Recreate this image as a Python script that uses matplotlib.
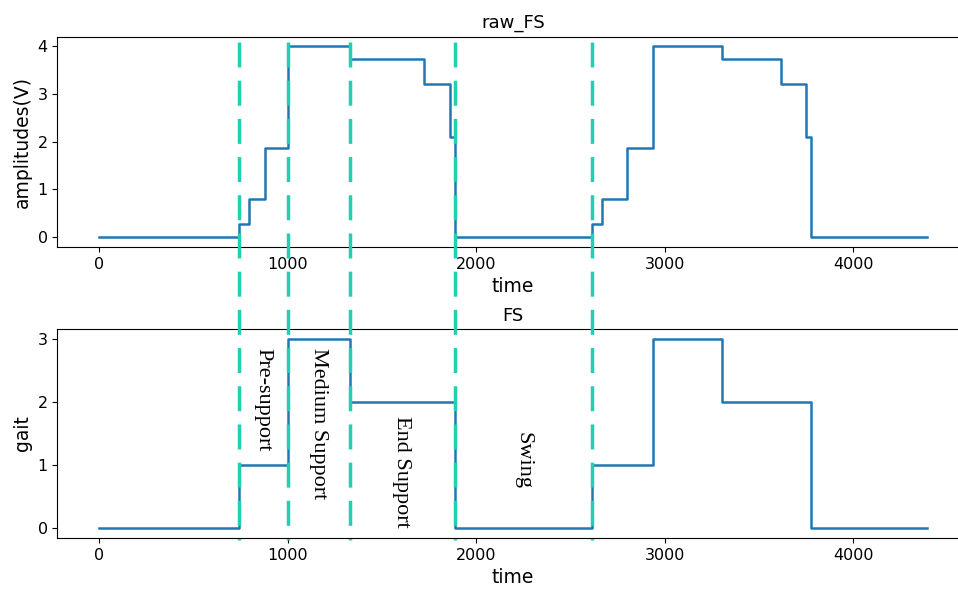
import matplotlib
matplotlib.use("Agg")
import matplotlib.pyplot as plt
from matplotlib.lines import Line2D
from matplotlib import transforms

# raw force-sensor amplitude, step changes (time, value)
raw_t = [0, 744, 795, 880, 1000, 1331, 1723, 1861, 1888,
         2616, 2669, 2803, 2939, 3305, 3616, 3752, 3774, 4392]
raw_v = [0, 0.27, 0.8, 1.87, 4.0, 3.73, 3.2, 2.1, 0,
         0.27, 0.8, 1.87, 4.0, 3.73, 3.2, 2.1, 0, 0]

# gait phase labels
gait_t = [0, 744, 1000, 1331, 1888, 2616, 2939, 3305, 3774, 4392]
gait_v = [0, 1, 3, 2, 0, 1, 3, 2, 0, 0]

# phase boundaries
bounds = [744, 1000, 1331, 1888, 2616]

phases = ["Pre-support", "Medium Support", "End Support", "Swing"]
phase_x = [872, 1166, 1605, 2250]
phase_y = [2.03, 1.65, 0.89, 1.08]

blue = "#1f77b4"
teal = "#20d0b0"
plt.rcParams["font.size"] = 11.5

fig = plt.figure(figsize=(9.58, 5.89), dpi=100)
ax1 = fig.add_axes([0.060, 0.581, 0.951, 0.357])
ax2 = fig.add_axes([0.060, 0.0866, 0.951, 0.3548])

ax1.step(raw_t, raw_v, where="post", color=blue, lw=1.8)
ax1.set_title("raw_FS", fontsize=13)
ax1.set_xlabel("time", fontsize=13.5)
ax1.set_ylabel("amplitudes(V)", fontsize=13.5)
ax1.set_yticks([0, 1, 2, 3, 4])

ax2.step(gait_t, gait_v, where="post", color=blue, lw=1.8)
ax2.set_title("FS", fontsize=13)
ax2.set_xlabel("time", fontsize=13.5)
ax2.set_ylabel("gait", fontsize=13.5)
ax2.set_yticks([0, 1, 2, 3])

for ax in (ax1, ax2):
    ax.set_xlim(-220, 4612)
    ax.set_xticks([0, 1000, 2000, 3000, 4000])

for name, x, y in zip(phases, phase_x, phase_y):
    ax2.text(x, y, name, rotation=-90, ha="center", va="center",
             family=["Liberation Serif", "DejaVu Serif"], fontsize=16)

# dashed boundaries running through both panels
trans = transforms.blended_transform_factory(ax1.transData, fig.transFigure)
for b in bounds:
    fig.add_artist(Line2D([b, b], [0.9287, 0.083], transform=trans,
                          color=teal, lw=2.5, dashes=(7.2, 3.8),
                          clip_on=False, zorder=5))

fig.savefig("out.png", dpi=100)
